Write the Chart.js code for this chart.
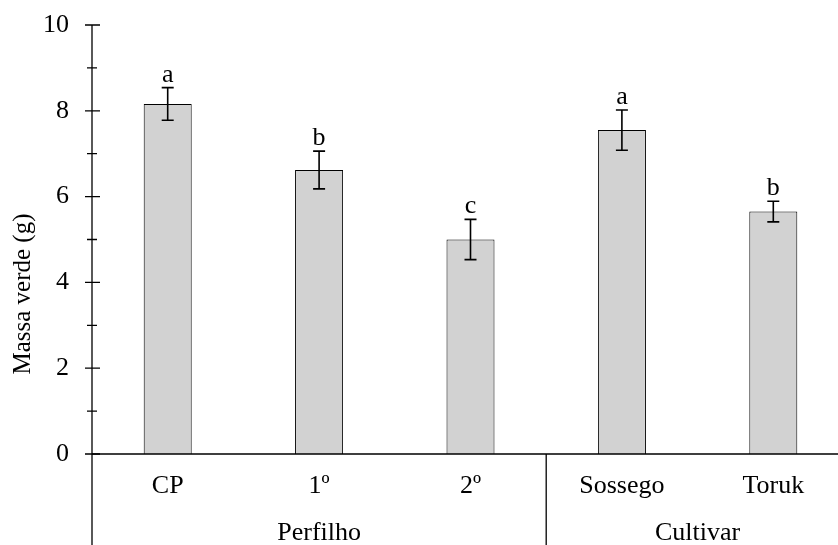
<!DOCTYPE html>
<html>
<head>
<meta charset="utf-8">
<script src="https://cdn.jsdelivr.net/npm/chart.js@4"></script>
<style>
  html, body { margin: 0; padding: 0; background: #fff; overflow: hidden; }
  #chart { display: block; }
</style>
</head>
<body>
<canvas id="chart" width="849" height="545"></canvas>
<script>
var categories = ['CP', '1º', '2º', 'Sossego', 'Toruk'];
var means = [8.16, 6.62, 5.0, 7.55, 5.65];
var errors = [0.38, 0.44, 0.47, 0.47, 0.24];
var letters = ['a', 'b', 'c', 'a', 'b'];
var groupNames = ['Perfilho', 'Cultivar'];
var groupSizes = [3, 2];
var minorTicks = [1, 3, 5, 7, 9];
var yTitle = 'Massa verde (g)';

var FONT = '"Liberation Serif", "Times New Roman", serif';

var extras = {
  id: 'extras',
  afterDatasetsDraw: function (chart) {
    var ctx = chart.ctx;
    var x = chart.scales.x;
    var y = chart.scales.y;
    var area = chart.chartArea;
    var H = chart.height;
    var meta = chart.getDatasetMeta(0);
    var step = x.getPixelForValue(1) - x.getPixelForValue(0);

    ctx.save();
    ctx.strokeStyle = '#000';
    ctx.fillStyle = '#000';

    // axes
    ctx.lineWidth = 1.3;
    ctx.beginPath();
    ctx.moveTo(area.left, y.getPixelForValue(10));
    ctx.lineTo(area.left, H);
    ctx.moveTo(area.left, y.getPixelForValue(0));
    ctx.lineTo(chart.width, y.getPixelForValue(0));
    ctx.stroke();

    // major / minor ticks
    ctx.beginPath();
    y.ticks.forEach(function (t) {
      var py = y.getPixelForValue(t.value);
      ctx.moveTo(area.left - 7, py);
      ctx.lineTo(area.left + 8, py);
    });
    minorTicks.forEach(function (v) {
      var py = y.getPixelForValue(v);
      ctx.moveTo(area.left - 5, py);
      ctx.lineTo(area.left + 5, py);
    });
    ctx.stroke();

    // group divider + labels
    var start = 0;
    ctx.font = '26px ' + FONT;
    ctx.textAlign = 'center';
    ctx.textBaseline = 'alphabetic';
    groupNames.forEach(function (name, g) {
      var end = start + groupSizes[g];
      var left = x.getPixelForValue(start) - step / 2;
      var right = x.getPixelForValue(end - 1) + step / 2;
      ctx.fillText(name, (left + right) / 2, 540);
      if (g > 0) {
        ctx.beginPath();
        ctx.lineWidth = 1.3;
        ctx.moveTo(left, y.getPixelForValue(0));
        ctx.lineTo(left, H);
        ctx.stroke();
      }
      start = end;
    });

    // error bars and letters
    ctx.lineWidth = 1.6;
    meta.data.forEach(function (bar, i) {
      var cx = bar.x;
      var top = y.getPixelForValue(means[i] + errors[i]);
      var bot = y.getPixelForValue(means[i] - errors[i]);
      ctx.beginPath();
      ctx.moveTo(cx, top);
      ctx.lineTo(cx, bot);
      ctx.moveTo(cx - 6, top);
      ctx.lineTo(cx + 6, top);
      ctx.moveTo(cx - 6, bot);
      ctx.lineTo(cx + 6, bot);
      ctx.stroke();
      ctx.fillText(letters[i], cx, top - 6);
    });

    // y title
    ctx.font = '25px ' + FONT;
    ctx.translate(30, 294);
    ctx.rotate(-Math.PI / 2);
    ctx.fillText(yTitle, 0, 0);
    ctx.restore();
  }
};

new Chart(document.getElementById('chart'), {
  type: 'bar',
  data: {
    labels: categories,
    datasets: [{
      data: means,
      backgroundColor: '#d2d2d2',
      borderColor: '#000',
      borderWidth: 1,
      categoryPercentage: 1,
      barPercentage: 0.317
    }]
  },
  options: {
    responsive: false,
    animation: false,
    devicePixelRatio: 1,
    layout: { padding: { top: 25, left: 0, right: 0, bottom: 0 } },
    plugins: {
      legend: { display: false },
      tooltip: { enabled: false }
    },
    scales: {
      x: {
        grid: { display: false, drawTicks: false },
        border: { display: false },
        ticks: { color: '#000', font: { family: FONT, size: 26 }, padding: 17, maxRotation: 0 },
        afterFit: function (s) { s.height = 91; s.paddingLeft = 0; s.paddingRight = 0; }
      },
      y: {
        min: 0,
        max: 10,
        grid: { display: false, drawTicks: false },
        border: { display: false },
        ticks: { stepSize: 2, color: '#000', font: { family: FONT, size: 26 }, padding: 23 },
        afterFit: function (s) { s.width = 92; s.paddingTop = 0; s.paddingBottom = 0; }
      }
    }
  },
  plugins: [extras]
});
</script>
</body>
</html>
